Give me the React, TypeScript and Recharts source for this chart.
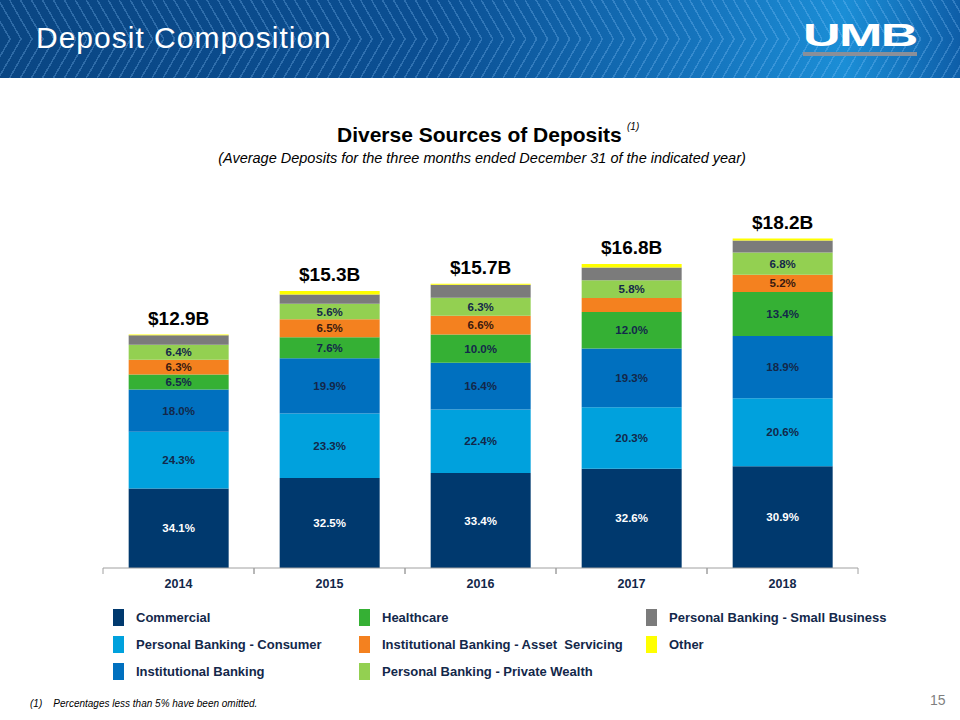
import { BarChart, Bar, XAxis, YAxis, LabelList } from 'recharts';

const years = ['2014', '2015', '2016', '2017', '2018'];
const totals = [12.9, 15.3, 15.7, 16.8, 18.2];
const totalLabels = ['$12.9B', '$15.3B', '$15.7B', '$16.8B', '$18.2B'];

// share of deposits, % (values under 5% are estimated from the bar heights)
const commercialPct = [34.1, 32.5, 33.4, 32.6, 30.9];
const consumerPct = [24.3, 23.3, 22.4, 20.3, 20.6];
const institutionalPct = [18.0, 19.9, 16.4, 19.3, 18.9];
const healthcarePct = [6.5, 7.6, 10.0, 12.0, 13.4];
const assetServicingPct = [6.3, 6.5, 6.6, 4.6, 5.2];
const privateWealthPct = [6.4, 5.6, 6.3, 5.8, 6.8];
const smallBusinessPct = [4.1, 3.4, 4.6, 4.2, 3.6];
const otherPct = [0.3, 1.2, 0.3, 1.2, 0.6];

const series = [
  { key: 'commercial', name: 'Commercial', color: '#00396e', text: '#ffffff', pct: commercialPct },
  { key: 'consumer', name: 'Personal Banking - Consumer', color: '#00a1dd', text: '#13284a', pct: consumerPct },
  { key: 'institutional', name: 'Institutional Banking', color: '#0070bf', text: '#13284a', pct: institutionalPct },
  { key: 'healthcare', name: 'Healthcare', color: '#35b034', text: '#13284a', pct: healthcarePct },
  { key: 'assetServicing', name: 'Institutional Banking - Asset  Servicing', color: '#f4811f', text: '#3a1a10', pct: assetServicingPct },
  { key: 'privateWealth', name: 'Personal Banking - Private Wealth', color: '#93d051', text: '#13284a', pct: privateWealthPct },
  { key: 'smallBusiness', name: 'Personal Banking - Small Business', color: '#7b7b7b', text: '#13284a', pct: smallBusinessPct },
  { key: 'other', name: 'Other', color: '#ffff00', text: '#13284a', pct: otherPct },
];

const data = years.map((year, i) => {
  const row: any = { year, total: totals[i], totalLabel: totalLabels[i] };
  series.forEach(s => {
    row[s.key] = (totals[i] * s.pct[i]) / 100;
    row[s.key + 'Pct'] = s.pct[i];
  });
  return row;
});

const arial = "'Liberation Sans', Arial, sans-serif";

const legendCols = [
  { x: 113, items: [0, 1, 2] },
  { x: 359, items: [3, 4, 5] },
  { x: 646, items: [6, 7] },
];

const SegmentLabel = (props: any) => {
  const { x, y, width, height, value, fill } = props;
  if (value == null || value < 5) return null;
  return (
    <text x={x + width / 2} y={y + height / 2 + 4} textAnchor="middle" fill={fill}
      style={{ fontFamily: arial, fontSize: 11.5, fontWeight: 700 }}>
      {value.toFixed(1)}%
    </text>
  );
};

const TotalLabel = (props: any) => {
  const { x, y, width, index } = props;
  return (
    <text x={x + width / 2} y={y - 10} textAnchor="middle" fill="#000"
      style={{ fontFamily: arial, fontSize: 19, fontWeight: 700 }}>
      {totalLabels[index]}
    </text>
  );
};

const YearTick = (props: any) => {
  const { x, y, payload } = props;
  const half = 755 / years.length / 2;
  return (
    <g>
      <line x1={x - half} x2={x - half} y1={y - 8} y2={y - 2} stroke="#a0a0a0" />
      <line x1={x + half} x2={x + half} y1={y - 8} y2={y - 2} stroke="#a0a0a0" />
      <text x={x} y={y + 12} textAnchor="middle" fill="#13284a"
        style={{ fontFamily: arial, fontSize: 12.5, fontWeight: 700 }}>
        {payload.value}
      </text>
    </g>
  );
};

const App = () => {
  return (
    <div style={{ position: 'absolute', left: 0, top: 0, width: 960, height: 720, background: '#fff', overflow: 'hidden' }}>
      {/* header banner */}
      <div style={{
        position: 'absolute', left: 0, top: 0, width: 960, height: 78,
        background: 'linear-gradient(90deg, #0a4683 0%, #0b4f93 45%, #1677c0 75%, #1b8ed6 88%, #0e5ea8 100%)',
      }} />
      <div style={{
        position: 'absolute', left: 0, top: 0, width: 960, height: 39,
        background: 'repeating-linear-gradient(60deg, rgba(255,255,255,0) 0px, rgba(255,255,255,0) 8px, rgba(140,200,255,0.28) 8px, rgba(140,200,255,0.28) 9.5px)',
      }} />
      <div style={{
        position: 'absolute', left: 0, top: 39, width: 960, height: 39,
        background: 'repeating-linear-gradient(120deg, rgba(255,255,255,0) 0px, rgba(255,255,255,0) 8px, rgba(140,200,255,0.28) 8px, rgba(140,200,255,0.28) 9.5px)',
      }} />
      <div style={{ position: 'absolute', left: 36, top: 21, color: '#fff', fontFamily: arial, fontSize: 30, letterSpacing: 1, lineHeight: '34px' }}>
        Deposit Composition
      </div>
      <div style={{ position: 'absolute', left: 803, top: 20, width: 114, height: 32, overflow: 'visible' }}>
        <div style={{ position: 'absolute', left: 0, top: 0, color: '#fff', fontFamily: arial, fontSize: 31, fontWeight: 900, lineHeight: '32px', letterSpacing: -1, transform: 'scaleX(1.68)', transformOrigin: '0 0' }}>
          UMB
        </div>
      </div>
      <div style={{ position: 'absolute', left: 803, top: 52, width: 114, height: 4, background: '#8a8f99' }} />

      {/* titles */}
      <div style={{ position: 'absolute', left: 337, top: 123, fontFamily: arial, fontSize: 21, fontWeight: 700, color: '#000', whiteSpace: 'nowrap', lineHeight: '24px' }}>
        Diverse Sources of Deposits
      </div>
      <div style={{ position: 'absolute', left: 627, top: 121, fontFamily: arial, fontSize: 10, fontStyle: 'italic', color: '#000' }}>
        (1)
      </div>
      <div style={{ position: 'absolute', left: 0, top: 150, width: 964, textAlign: 'center', fontFamily: arial, fontSize: 14.5, fontStyle: 'italic', color: '#000', lineHeight: '17px' }}>
        (Average Deposits for the three months ended December 31 of the indicated year)
      </div>

      <div style={{ position: 'absolute', left: 0, top: 0 }}>
        <BarChart width={960} height={720} data={data} barCategoryGap="17%"
          margin={{ top: 206, right: 102, bottom: 122, left: 103 }}>
          <YAxis hide domain={[0, 20]} />
          <XAxis dataKey="year" height={30} tickLine={false} axisLine={{ stroke: '#a0a0a0' }}
            tick={<YearTick />} interval={0} />
          {series.map((s, i) => (
            <Bar key={s.key} dataKey={s.key} name={s.name} stackId="a" fill={s.color} isAnimationActive={false}>
              <LabelList dataKey={s.key + 'Pct'} content={(p: any) => <SegmentLabel {...p} fill={s.text} />} />
              {i === series.length - 1 && <LabelList dataKey="totalLabel" content={<TotalLabel />} />}
            </Bar>
          ))}
        </BarChart>
      </div>

      {/* legend */}
      {legendCols.map((col, ci) =>
        col.items.map((si, ri) => (
          <div key={ci + '-' + ri} style={{ position: 'absolute', left: col.x, top: 608 + ri * 27, height: 18, display: 'flex', alignItems: 'center' }}>
            <div style={{ width: 11, height: 17, background: series[si].color }} />
            <div style={{ marginLeft: 12, fontFamily: arial, fontSize: 13, fontWeight: 700, color: '#13284a', whiteSpace: 'pre' }}>
              {series[si].name}
            </div>
          </div>
        ))
      )}

      {/* footer */}
      <div style={{ position: 'absolute', left: 30, top: 698, fontFamily: arial, fontSize: 10, fontStyle: 'italic', color: '#000', whiteSpace: 'pre' }}>
        {'(1)    Percentages less than 5% have been omitted.'}
      </div>
      <div style={{ position: 'absolute', left: 930, top: 692, fontFamily: arial, fontSize: 14, color: '#7f7f7f' }}>
        15
      </div>
    </div>
  );
};

export default App;
